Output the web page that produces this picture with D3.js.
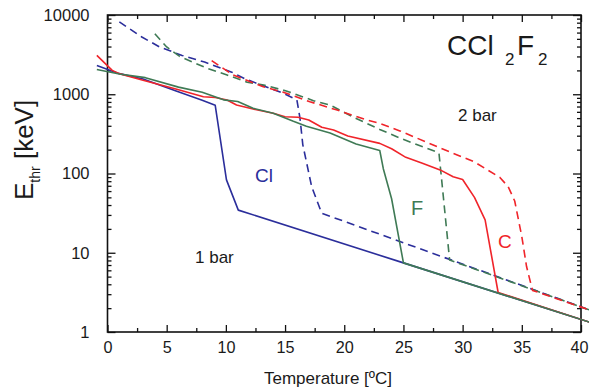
<!DOCTYPE html>
<html><head><meta charset="utf-8">
<script src="https://cdn.jsdelivr.net/npm/d3@7"></script>
<style>
body{margin:0;background:#fff}
svg{display:block}
text{font-family:"Liberation Sans",Arial,Helvetica,sans-serif;fill:#1a1a1a}
</style>
</head><body>
<svg id="c" width="589" height="392"></svg>
<script>
// ---- data (temperature in °C, threshold energy in keV) ----
const xMajorTicks = [0, 5, 10, 15, 20, 25, 30, 35, 40];
const xMinorTicks = [2.5, 7.5, 12.5, 17.5, 22.5, 27.5, 32.5, 37.5];
const yTicks = [1, 10, 100, 1000, 10000];

// Cl, 1 bar (solid blue)
const cl1T = [-0.9, 1.0, 3.0, 5.8, 8.0, 9.1, 10.05, 11.05, 25.0, 40.8];
const cl1E = [2300, 1820, 1560, 1100, 840, 725, 83, 34.5, 7.45, 1.32];
// F, 1 bar (solid green)
const f1T = [-0.9, 1.0, 3.2, 6.0, 8.0, 9.8, 11.0, 12.3, 14.0, 15.7, 16.8, 18.8, 21.0, 23.0, 23.3, 24.0, 25.0, 40.8];
const f1E = [2050, 1800, 1620, 1230, 1060, 850, 810, 665, 575, 455, 395, 325, 235, 195, 115, 48, 7.45, 1.32];
// C, 1 bar (solid red)
const c1T = [-0.9, 0.4, 1.0, 3.0, 5.7, 8.1, 9.1, 10.1, 10.9, 12.3, 14.0, 15.0, 16.1, 17.0, 18.1, 19.1, 20.3, 23.0, 24.0, 25.2, 26.6, 28.1, 29.2, 30.0, 31.0, 31.9, 33.0, 40.8];
const c1E = [3100, 2000, 1820, 1500, 1175, 930, 910, 846, 731, 651, 575, 521, 512, 473, 383, 354, 297, 240, 205, 160, 135, 111, 91, 84, 50, 26, 3.15, 1.32];
// Cl, 2 bar (dashed blue)
const cl2T = [1.0, 2.9, 4.4, 6.3, 8.2, 10.5, 11.6, 13.7, 14.85, 16.0, 16.26, 16.5, 17.25, 18.1, 40.8];
const cl2E = [8200, 5280, 3950, 3090, 2550, 1900, 1570, 1190, 1030, 846, 500, 230, 68, 31.5, 1.88];
// F, 2 bar (dashed green)
const f2T = [4.0, 5.0, 6.1, 8.4, 10.1, 11.8, 13.2, 15.1, 17.4, 18.8, 20.7, 23.0, 24.7, 28.0, 28.4, 28.9, 40.8];
const f2E = [5800, 3950, 3000, 2130, 1750, 1420, 1309, 1100, 830, 731, 520, 360, 280, 182, 46, 8.1, 1.88];
// C, 2 bar (dashed red)
const c2T = [8.8, 10.6, 13.1, 14.85, 17.1, 19.4, 21.9, 23.0, 24.7, 28.1, 31.0, 33.15, 33.85, 34.4, 35.0, 35.4, 35.9, 40.8];
const c2E = [2650, 1750, 1250, 1060, 805, 631, 473, 430, 345, 210, 140, 89, 68, 45, 16, 6.7, 3.35, 1.88];

const BLUE = "#2b2e9b", GREEN = "#3f7a55", RED = "#f0242a";

const series = [
  {t: cl2T, e: cl2E, c: BLUE, dash: true},
  {t: f2T, e: f2E, c: GREEN, dash: true},
  {t: c2T, e: c2E, c: RED, dash: true},
  {t: cl1T, e: cl1E, c: BLUE, dash: false},
  {t: c1T, e: c1E, c: RED, dash: false},
  {t: f1T, e: f1E, c: GREEN, dash: false}
];

// ---- chart ----
const svg = d3.select("#c");
const L = 107.5, R = 581, T = 15, B = 332;
const x = d3.scaleLinear().domain([0, 40]).range([L, R]);
const y = d3.scaleLog().domain([1, 10000]).range([B, T]);

const yMinor = [];
for (let d = 1; d < 10000; d *= 10) for (let k = 2; k <= 9; k++) yMinor.push(d * k);

function strip(g) { g.select(".domain").remove(); g.selectAll("line").attr("stroke", "#111").attr("stroke-width", 1.3); }

// bottom axis
svg.append("g").attr("transform", `translate(0,${B})`)
  .call(d3.axisBottom(x).tickValues(xMajorTicks).tickSize(-7).tickPadding(9).tickFormat(d3.format("d")))
  .call(strip)
  .call(g => g.selectAll("text").attr("font-size", 16.2).attr("fill", "#1a1a1a")
    .attr("font-family", "Liberation Sans, Arial, sans-serif")
    .attr("dx", d => d === 40 ? -2 : 0));
svg.append("g").attr("transform", `translate(0,${B})`)
  .call(d3.axisBottom(x).tickValues(xMinorTicks).tickSize(-4).tickFormat("")).call(strip);
// top axis
svg.append("g").attr("transform", `translate(0,${T})`)
  .call(d3.axisTop(x).tickValues(xMajorTicks).tickSize(-7).tickFormat("")).call(strip);
svg.append("g").attr("transform", `translate(0,${T})`)
  .call(d3.axisTop(x).tickValues(xMinorTicks).tickSize(-4).tickFormat("")).call(strip);
// left axis
svg.append("g").attr("transform", `translate(${L},0)`)
  .call(d3.axisLeft(y).tickValues(yTicks).tickSize(-8).tickPadding(18).tickFormat(d3.format("d")))
  .call(strip)
  .call(g => g.selectAll("text").attr("font-size", 16.5).attr("fill", "#1a1a1a").attr("font-family", "Liberation Sans, Arial, sans-serif"));
svg.append("g").attr("transform", `translate(${L},0)`)
  .call(d3.axisLeft(y).tickValues(yMinor).tickSize(-4).tickFormat("")).call(strip);
// right axis
svg.append("g").attr("transform", `translate(${R},0)`)
  .call(d3.axisRight(y).tickValues(yTicks).tickSize(-8).tickFormat("")).call(strip);
svg.append("g").attr("transform", `translate(${R},0)`)
  .call(d3.axisRight(y).tickValues(yMinor).tickSize(-4).tickFormat("")).call(strip);

// frame
svg.append("rect").attr("x", L).attr("y", T).attr("width", R - L).attr("height", B - T)
  .attr("fill", "none").attr("stroke", "#111").attr("stroke-width", 1.6);

// lines
const line = d3.line().x(d => x(d[0])).y(d => y(d[1]));
series.forEach(s => {
  const pts = s.t.map((t, i) => [t, s.e[i]]);
  svg.append("path").datum(pts).attr("d", line)
    .attr("fill", "none").attr("stroke", s.c).attr("stroke-width", 1.6)
    .attr("stroke-linejoin", "round")
    .attr("stroke-dasharray", s.dash ? "8,5" : null);
});

// labels
svg.append("text").attr("x", 328).attr("y", 384).attr("text-anchor", "middle")
  .attr("font-size", 17).text("Temperature [ºC]");

const yl = svg.append("text").attr("transform", "translate(33,200) rotate(-90)")
  .attr("font-size", 26);
yl.append("tspan").text("E");
yl.append("tspan").attr("font-size", 14).attr("dy", 7).text("thr");
yl.append("tspan").attr("dy", -7).text(" [keV]");

const title = svg.append("text").attr("x", 447).attr("y", 55).attr("font-size", 28);
title.append("tspan").text("CCl");
title.append("tspan").attr("x", 505).attr("dy", 10).attr("font-size", 17).text("2");
title.append("tspan").attr("x", 517).attr("dy", -10).text("F");
title.append("tspan").attr("x", 538).attr("dy", 10).attr("font-size", 17).text("2");

svg.append("text").attr("x", 458).attr("y", 121).attr("font-size", 17).text("2 bar");
svg.append("text").attr("x", 195).attr("y", 263).attr("font-size", 17).text("1 bar");
svg.append("text").attr("x", 255).attr("y", 182).attr("font-size", 19).style("fill", BLUE).text("Cl");
svg.append("text").attr("x", 411).attr("y", 215).attr("font-size", 20).style("fill", GREEN).text("F");
svg.append("text").attr("x", 498).attr("y", 248).attr("font-size", 19).style("fill", RED).text("C");
</script>
</body></html>
